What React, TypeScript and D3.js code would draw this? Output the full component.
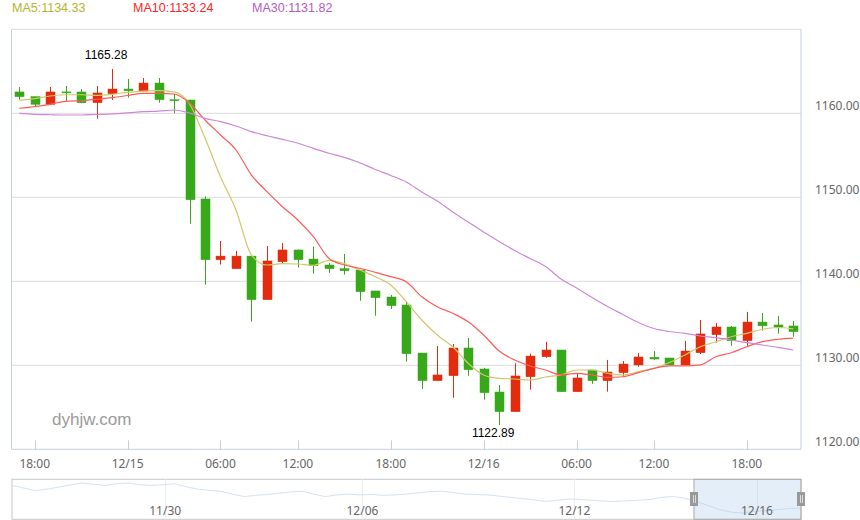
import React, { useEffect } from "react";
import * as d3 from "d3";

// ---- data ----
const categories = [
  "12/14 17:00", "12/14 18:00", "12/14 19:00", "12/14 20:00", "12/14 21:00", "12/14 22:00", "12/14 23:00",
  "12/15 00:00", "12/15 01:00", "12/15 02:00", "12/15 03:00", "12/15 04:00", "12/15 05:00", "12/15 06:00",
  "12/15 08:00", "12/15 09:00", "12/15 10:00", "12/15 11:00", "12/15 12:00", "12/15 13:00", "12/15 14:00",
  "12/15 15:00", "12/15 16:00", "12/15 17:00", "12/15 18:00", "12/15 19:00", "12/15 20:00", "12/15 21:00",
  "12/15 22:00", "12/15 23:00", "12/16 00:00", "12/16 01:00", "12/16 02:00", "12/16 03:00", "12/16 04:00",
  "12/16 05:00", "12/16 06:00", "12/16 08:00", "12/16 09:00", "12/16 10:00", "12/16 11:00", "12/16 12:00",
  "12/16 13:00", "12/16 14:00", "12/16 15:00", "12/16 16:00", "12/16 17:00", "12/16 18:00", "12/16 19:00",
  "12/16 20:00", "12/16 21:00",
];

const opens = [
  1162.54, 1161.98, 1161.07, 1162.55, 1162.54, 1161.26, 1162.33, 1162.89, 1162.65, 1163.6, 1161.62,
  1161.58, 1149.8, 1142.57, 1141.5, 1143.0, 1137.81, 1142.33, 1143.73, 1142.65, 1141.94,
  1141.5, 1141.34, 1138.85, 1138.13, 1137.18, 1131.46, 1128.17, 1128.76, 1132.06, 1129.56,
  1126.82, 1124.48, 1128.64, 1131.02, 1131.82, 1126.86, 1129.44, 1128.17, 1129.12, 1130.04,
  1130.95, 1130.87, 1130.04, 1131.5, 1133.64, 1134.56, 1132.93, 1135.15, 1134.8, 1134.68,
];
const closes = [
  1161.98, 1161.07, 1162.54, 1162.5, 1161.26, 1162.42, 1162.89, 1162.69, 1163.6, 1161.62, 1161.55,
  1149.71, 1142.57, 1143.0, 1143.0, 1137.81, 1142.42, 1143.73, 1142.57, 1141.86, 1141.5,
  1141.26, 1138.76, 1138.05, 1137.1, 1131.38, 1128.17, 1128.85, 1132.06, 1129.48, 1126.74,
  1124.48, 1128.73, 1131.1, 1131.82, 1126.86, 1128.49, 1128.17, 1129.2, 1130.15, 1130.99,
  1130.75, 1130.04, 1131.7, 1133.73, 1134.56, 1132.93, 1135.15, 1134.7, 1134.56, 1134.0,
];
const lows = [
  1161.62, 1160.79, 1161.07, 1161.38, 1161.2, 1159.36, 1161.58, 1161.86, 1162.6, 1161.26, 1160.0,
  1146.86, 1139.6, 1142.0, 1141.5, 1135.2, 1137.81, 1142.06, 1141.62, 1140.9, 1141.0,
  1140.8, 1137.69, 1135.9, 1136.7, 1130.43, 1127.18, 1128.17, 1126.14, 1128.76, 1125.9,
  1122.89, 1124.48, 1127.1, 1130.9, 1126.86, 1126.86, 1127.81, 1126.86, 1128.64, 1129.83,
  1130.63, 1130.04, 1130.04, 1131.34, 1132.7, 1132.33, 1132.33, 1134.12, 1133.76, 1133.4,
];
const highs = [
  1163.13, 1162.0, 1163.13, 1163.25, 1162.89, 1163.25, 1165.28, 1164.08, 1164.2, 1164.2, 1162.3,
  1161.6, 1150.12, 1144.8, 1143.6, 1143.0, 1144.2, 1144.56, 1143.8, 1144.13, 1142.18,
  1143.25, 1141.34, 1138.85, 1138.37, 1137.57, 1131.46, 1132.3, 1132.54, 1133.25, 1129.7,
  1127.65, 1130.24, 1131.38, 1132.8, 1131.82, 1128.97, 1129.44, 1130.63, 1130.51, 1131.46,
  1131.7, 1130.87, 1132.9, 1135.39, 1135.04, 1134.68, 1136.34, 1136.23, 1135.87, 1135.27,
];

const ma5 = [
  1161.55, 1161.74, 1162.06, 1162.21, 1162.21, 1162.14, 1162.26, 1162.5, 1162.65, 1162.69, 1162.54,
  1161.11, 1157.06, 1152.45, 1148.49, 1143.13, 1141.94, 1142.1, 1142.06, 1141.9, 1142.5,
  1142.1, 1141.35, 1140.55, 1139.56, 1137.57, 1135.39, 1133.61, 1132.21, 1130.24, 1128.85,
  1128.45, 1128.37, 1128.25, 1128.61, 1128.85, 1129.44, 1129.44, 1129.05, 1128.85, 1129.24,
  1129.64, 1130.33, 1131.23, 1132.21, 1132.81, 1133.4, 1133.81, 1134.29, 1134.5, 1134.33,
];
const ma10 = [
  1160.6, 1160.79, 1161.07, 1161.43, 1161.5, 1161.67, 1161.86, 1162.12, 1162.38, 1162.38, 1162.3,
  1161.23, 1159.2, 1157.42, 1155.63, 1152.65, 1150.67, 1148.88, 1147.3, 1145.31, 1142.74,
  1141.94, 1141.55, 1141.07, 1140.55, 1139.95, 1138.17, 1136.98, 1136.19, 1135.19, 1133.61,
  1131.7, 1130.63, 1129.92, 1129.44, 1128.85, 1129.05, 1128.85, 1128.57, 1128.64, 1129.12,
  1129.64, 1129.92, 1129.92, 1130.04, 1131.02, 1131.5, 1132.21, 1132.81, 1133.1, 1133.24,
];
const ma30 = [
  1159.98, 1159.88, 1159.83, 1159.8, 1159.8, 1159.86, 1159.92, 1160.04, 1160.19, 1160.27, 1160.39,
  1160.04, 1159.4, 1159.0, 1158.49, 1157.81, 1157.33, 1156.9, 1156.43, 1155.83, 1155.24,
  1154.76, 1154.12, 1153.31, 1152.6, 1151.82, 1150.63, 1149.56, 1148.25, 1147.06, 1145.87,
  1144.74, 1143.67, 1142.71, 1141.76, 1140.27, 1139.2, 1138.07, 1137.0, 1136.05, 1135.1,
  1134.38, 1134.02, 1133.81, 1133.49, 1133.29, 1133.01, 1132.69, 1132.42, 1132.14, 1131.82,
];

const maNames = ["MA5", "MA10", "MA30"];
const maLatest = [1134.33, 1133.24, 1131.82];

const yTicks = [1120, 1130, 1140, 1150, 1160];

// overview (data zoom) history, sampled closes
const historyCount = 376;
const historyCloses = [
  1189, 1183, 1176, 1180, 1185, 1190, 1195, 1192, 1189, 1193, 1195, 1191, 1189, 1191, 1193,
  1186, 1180, 1177, 1175, 1168, 1162, 1165, 1167, 1170, 1173, 1175, 1168, 1162, 1166, 1168,
  1166, 1167, 1165, 1166, 1168, 1171, 1174, 1175, 1172, 1168, 1167, 1166, 1163, 1160, 1157,
  1154, 1150, 1153, 1156, 1155, 1153, 1151, 1150, 1152, 1153, 1155, 1160, 1162, 1158, 1150,
  1140, 1130, 1124, 1122, 1126, 1128, 1130, 1133, 1134,
];
const sliderLabels = ["11/30", "12/06", "12/12", "12/16"];
const sliderLabelIndex = [73, 167, 268, 355];
const windowStart = 325;
const windowEnd = 376;

// ---- styles ----
const W = 860;
const H = 520;
const plot = { left: 11.5, right: 801, top: 29.3, bottom: 449.3 };
const slider = { top: 479.3, bottom: 519.3 };
const upColor = "#e32b0e";
const downColor = "#37a81a";
const maColors = ["#b4b42e", "#ff2424", "#b45ac6"];
const maLineColors = ["#cfc86a", "#ff5a5a", "#cf86d8"];
const font = "'Noto Sans', 'Liberation Sans', Arial, sans-serif";
const markFont = "'Liberation Sans', Arial, sans-serif";

export default function App() {
  useEffect(() => {
    document.body.style.margin = "0";
  }, []);

  const x = d3.scaleBand<string>().domain(categories).range([plot.left, plot.right]);
  const y = d3.scaleLinear().domain([1120, 1170]).range([plot.bottom, plot.top]);
  const cx = (i: number) => (x(categories[i]) as number) + x.bandwidth() / 2;
  const bodyW = 9;

  const maSeries = [ma5, ma10, ma30];
  const line = d3
    .line<number>()
    .x((_, i) => cx(i))
    .y((d) => y(d))
    .curve(d3.curveMonotoneX);

  const tickIdx = categories
    .map((c, i) => ({ c, i }))
    .filter(({ c }) => /(00|06|12|18):00$/.test(c));
  const tickLabel = (c: string) => {
    const [date, time] = c.split(" ");
    return time === "00:00" ? date : time;
  };

  const hiIdx = d3.maxIndex(highs);
  const loIdx = d3.minIndex(lows);

  const sx = d3.scaleLinear().domain([0, historyCount]).range([12, 801]);
  const sxh = d3
    .scaleLinear()
    .domain([0, historyCloses.length - 1])
    .range([12, 801]);
  const sy = d3
    .scaleLinear()
    .domain(d3.extent(historyCloses) as [number, number])
    .range([513, 483]);
  const shadow = d3
    .line<number>()
    .x((_, i) => sxh(i))
    .y((d) => sy(d))
    .curve(d3.curveLinear);

  const axisColor = "#c5cfdc";
  const gridColor = "#dcdcdc";

  return (
    <svg width={W} height={H} style={{ display: "block", fontFamily: font }}>
      <rect x={0} y={0} width={W} height={H} fill="#fff" />
      {/* legend */}
      {maNames.map((n, k) => (
        <text
          key={n}
          x={[12, 133, 252][k]}
          y={11.8}
          fontSize={12.5}
          fill={maColors[k]}
          fontFamily={markFont}
        >
          {`${n}:${maLatest[k].toFixed(2)}`}
        </text>
      ))}

      {/* grid */}
      <line x1={plot.left} x2={plot.right} y1={y(1170)} y2={y(1170)} stroke={gridColor} />
      {yTicks
        .filter((t) => t !== 1120)
        .map((t) => (
          <line key={t} x1={plot.left} x2={plot.right} y1={y(t)} y2={y(t)} stroke={gridColor} />
        ))}
      <line x1={plot.left} x2={plot.left} y1={plot.top} y2={plot.bottom} stroke={axisColor} />
      <line x1={plot.right} x2={plot.right} y1={plot.top} y2={plot.bottom} stroke={axisColor} />
      <line x1={plot.left} x2={plot.right} y1={plot.bottom} y2={plot.bottom} stroke={axisColor} />

      {/* y labels */}
      {yTicks.map((t) => (
        <text key={t} x={815} y={y(t) - 3.5} fontSize={12} fill="#666">
          {t.toFixed(2)}
        </text>
      ))}

      {/* x ticks & labels */}
      {tickIdx.map(({ c, i }) => (
        <g key={c}>
          <line
            x1={Math.round(cx(i)) + 0.5}
            x2={Math.round(cx(i)) + 0.5}
            y1={plot.bottom}
            y2={plot.bottom - 9}
            stroke={axisColor}
          />
          <text x={cx(i)} y={468} fontSize={12} fill="#666" textAnchor="middle">
            {tickLabel(c)}
          </text>
        </g>
      ))}

      {/* watermark */}
      <text x={52} y={425} fontSize={17} fill="#9a9a9a" fontFamily={markFont}>
        dyhjw.com
      </text>

      {/* candles */}
      {categories.map((c, i) => {
        const o = opens[i];
        const cl = closes[i];
        const up = cl > o;
        const col = up ? upColor : downColor;
        const top = y(Math.max(o, cl));
        const bot = y(Math.min(o, cl));
        const xc = Math.round(cx(i)) + 0.5;
        return (
          <g key={c}>
            <line x1={xc} x2={xc} y1={y(highs[i])} y2={y(lows[i])} stroke={col} strokeWidth={1} />
            <rect
              x={xc - bodyW / 2}
              y={top}
              width={bodyW}
              height={Math.max(bot - top, 1)}
              fill={col}
              stroke={col}
              strokeWidth={0.5}
            />
          </g>
        );
      })}

      {/* MA lines */}
      {maSeries.map((s, k) => (
        <path key={k} d={line(s) as string} fill="none" stroke={maLineColors[k]} strokeWidth={1.2} />
      ))}

      {/* mark labels */}
      <text
        x={cx(hiIdx) - 6}
        y={y(highs[hiIdx]) - 10}
        fontSize={12}
        fill="#000"
        textAnchor="middle"
        fontFamily={markFont}
      >
        {highs[hiIdx].toFixed(2)}
      </text>
      <text
        x={cx(loIdx) - 6}
        y={y(lows[loIdx]) + 12}
        fontSize={12}
        fill="#000"
        textAnchor="middle"
        fontFamily={markFont}
      >
        {lows[loIdx].toFixed(2)}
      </text>

      {/* data zoom slider */}
      <rect
        x={12}
        y={slider.top}
        width={801 - 12}
        height={slider.bottom - slider.top}
        fill="#fff"
        stroke="#c8c8c8"
      />
      {sliderLabelIndex.map((idx, k) => (
        <line
          key={k}
          x1={Math.round(sx(idx)) + 0.5}
          x2={Math.round(sx(idx)) + 0.5}
          y1={slider.top}
          y2={slider.bottom}
          stroke="#eeeeee"
        />
      ))}
      <path d={shadow(historyCloses) as string} fill="none" stroke="#d6e3f1" strokeWidth={1} />
      <rect
        x={sx(windowStart)}
        y={slider.top}
        width={sx(windowEnd) - sx(windowStart)}
        height={slider.bottom - slider.top}
        fill="rgba(167,199,235,0.3)"
        stroke="#aaaaaa"
      />
      {sliderLabels.map((l, k) => (
        <text key={l} x={sx(sliderLabelIndex[k])} y={515} fontSize={12} fill="#666" textAnchor="middle">
          {l}
        </text>
      ))}
      {[windowStart, windowEnd].map((w) => (
        <g key={w}>
          <rect x={sx(w) - 4} y={492} width={8} height={14} fill="#999" />
          <line x1={sx(w) - 0.5} x2={sx(w) - 0.5} y1={495} y2={503} stroke="#ddd" />
          <line x1={sx(w) + 1.5} x2={sx(w) + 1.5} y1={495} y2={503} stroke="#ddd" />
        </g>
      ))}
    </svg>
  );
}
